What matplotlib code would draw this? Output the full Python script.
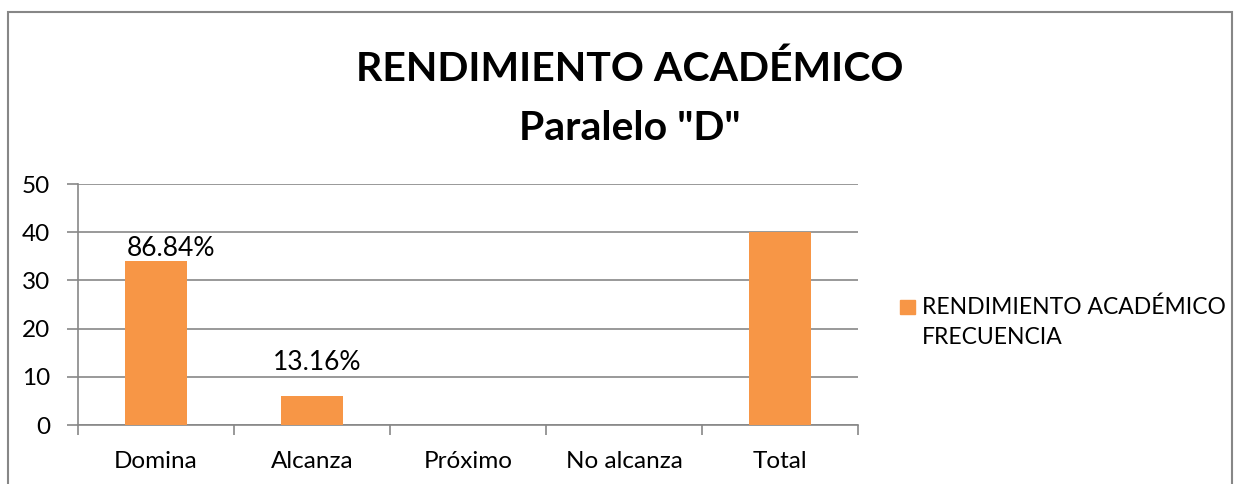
import matplotlib.pyplot as plt
from matplotlib.patches import Rectangle
import numpy as np

categories = ['Domina', 'Alcanza', 'Próximo', 'No alcanza', 'Total']
frecuencia = [34, 6, 0, 0, 40]
porcentajes = ['86.84%', '13.16%', '', '', '']
y_ticks = [0, 10, 20, 30, 40, 50]
serie = 'RENDIMIENTO ACADÉMICO\nFRECUENCIA'

BAR_COLOR = '#F79646'
GRID_COLOR = '#878787'
# data labels were nudged by hand in the original (offsets in points)
LABEL_OFFSETS = [(11, 0), (4, 15), (0, 0), (0, 0), (0, 0)]

plt.rcParams['font.family'] = ['Lato', 'DejaVu Sans']

fig = plt.figure(figsize=(12.35, 4.84), dpi=100)
W, H = 1235, 484
ax = fig.add_axes([78 / W, 1 - 425 / H, (858 - 78) / W, (425 - 184) / H])

x = np.arange(len(categories))
bars = ax.bar(x, frecuencia, width=0.4, color=BAR_COLOR, zorder=3)

for bar, txt, off in zip(bars, porcentajes, LABEL_OFFSETS):
    if txt:
        ax.annotate(txt, (bar.get_x() + bar.get_width() / 2, bar.get_height()),
                    xytext=off, textcoords='offset points',
                    ha='center', va='bottom', fontsize=19)

ax.set_xlim(-0.5, len(categories) - 0.5)
ax.set_ylim(0, 50)
ax.set_yticks(y_ticks)
ax.yaxis.grid(True, color=GRID_COLOR, linewidth=1.2, zorder=0)
ax.set_xticks(x)
ax.set_xticklabels(categories, fontsize=17.5)
ax.set_xticks(np.arange(-0.5, len(categories)), minor=True)
ax.tick_params(axis='x', which='major', length=0, pad=19)
ax.tick_params(axis='x', which='minor', length=7, color=GRID_COLOR, width=1.2)
ax.tick_params(axis='y', length=8, color=GRID_COLOR, width=1.2, labelsize=17.5, pad=12)
for side in ['top', 'right']:
    ax.spines[side].set_visible(False)
for side in ['left', 'bottom']:
    ax.spines[side].set_color(GRID_COLOR)
    ax.spines[side].set_linewidth(1.2)

fig.text(630 / W, 1 - 69 / H, 'RENDIMIENTO ACADÉMICO', ha='center', va='center',
         fontsize=29.5, fontweight='bold')
fig.text(630 / W, 1 - 128 / H, 'Paralelo "D"', ha='center', va='center',
         fontsize=29.5, fontweight='bold')

# legend: square marker aligned with the first line of the label
fig.patches.append(Rectangle((900 / W, 1 - 314 / H), 15 / W, 14 / H,
                             transform=fig.transFigure, color=BAR_COLOR))
fig.text(922 / W, 1 - 296 / H, serie, ha='left', va='top', fontsize=16.5,
         linespacing=1.55)

fig.patches.append(Rectangle((8 / W, -0.1), (1232 - 8) / W, 1.1 - 12 / H,
                             transform=fig.transFigure, fill=False,
                             edgecolor=GRID_COLOR, linewidth=1.5))

fig.savefig('out.png', dpi=100)
